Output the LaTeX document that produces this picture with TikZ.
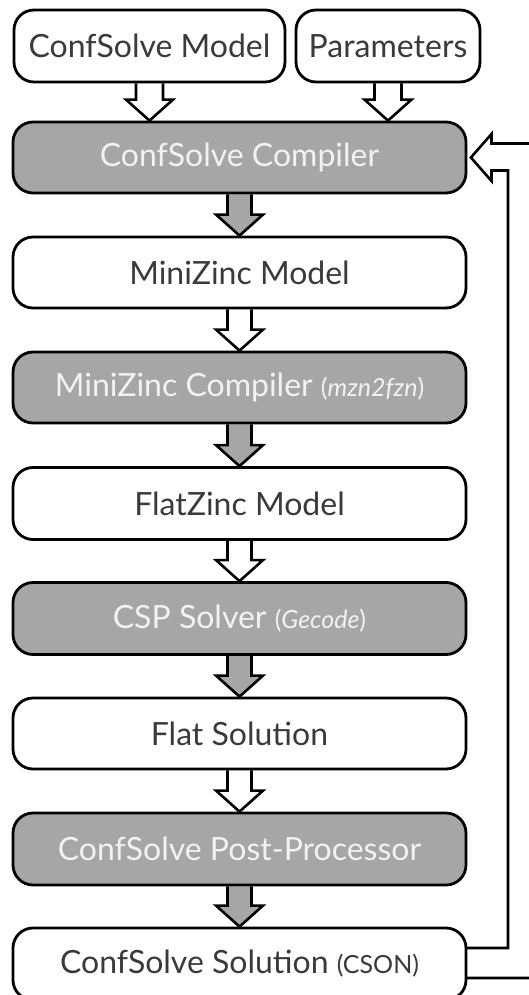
\documentclass[tikz,border=0pt]{standalone}
\usepackage{fontspec}
\setmainfont{Lato}
\usetikzlibrary{calc}
\pgfdeclarelayer{background}
\pgfsetlayers{background,main}
\definecolor{boxgray}{HTML}{A6A6A6}
\definecolor{darktext}{HTML}{3A3A3A}
\definecolor{lighttext}{HTML}{F2F2F2}
\tikzset{
  box/.style={draw=black, line width=2.8pt, rounded corners=20pt, inner sep=0pt,
    minimum height=71pt, font=\fontsize{32}{36}\selectfont},
  wbox/.style={box, fill=white, text=darktext},
  gbox/.style={box, fill=boxgray, text=lighttext},
  mainbox/.style={minimum width=453pt},
  arr/.style={draw=black, line width=2.6pt, line join=miter},
}
\newcommand\parensize{\fontsize{25}{29}\selectfont}
% block arrow: [fill]{from}{to}{half shaft width}
\newcommand\blockarr[4][white]{%
  \draw[arr, fill=#1]
    ($(#2.south)+(-#4,0)$) --
    ($(#2.south |- #3.north)+(-#4,21pt)$) --
    ($(#2.south |- #3.north)+(-23.5pt,21pt)$) --
    (#2.south |- #3.north) --
    ($(#2.south |- #3.north)+(23.5pt,21pt)$) --
    ($(#2.south |- #3.north)+(#4,21pt)$) --
    ($(#2.south)+(#4,0)$);}
\begin{document}
\begin{tikzpicture}[x=1pt, y=-1pt]
  \useasboundingbox (0,0) rectangle (529,995);
  \clip (0,0) rectangle (529,995);
  \node[wbox, minimum width=271pt, minimum height=72pt] (cm) at (149.5,46) {ConfSolve Model};
  \node[wbox, minimum width=184pt, minimum height=72pt] (par) at (388,46) {Parameters};
  \node[gbox, mainbox] (comp) at (239.5,157.5) {ConfSolve Compiler};
  \node[wbox, mainbox] (mm) at (239.5,272.5) {MiniZinc Model};
  \node[gbox, mainbox] (mc) at (239.5,387.5) {MiniZinc Compiler {\parensize(\textit{mzn2fzn})}};
  \node[wbox, mainbox, minimum height=72pt] (fm) at (239.5,503.5) {FlatZinc Model};
  \node[gbox, mainbox, minimum height=72pt] (csp) at (239.5,618.5) {CSP Solver {\parensize(\textit{Gecode})}};
  \node[wbox, mainbox] (fs) at (239.5,733.5) {Flat Solution};
  \node[gbox, mainbox, minimum height=72pt] (pp) at (239.5,849) {ConfSolve Post-Processor};
  \node[wbox, mainbox, minimum height=72pt] (sol) at (239.5,964) {ConfSolve Solution {\parensize(CSON)}};
  \begin{pgfonlayer}{background}
    \blockarr{cm}{comp}{13.5pt}
    \blockarr{par}{comp}{13.5pt}
    \blockarr[boxgray]{comp}{mm}{12pt}
    \blockarr{mm}{mc}{12pt}
    \blockarr[boxgray]{mc}{fm}{12pt}
    \blockarr{fm}{csp}{12pt}
    \blockarr[boxgray]{csp}{fs}{12pt}
    \blockarr{fs}{pp}{12pt}
    \blockarr[boxgray]{pp}{sol}{12pt}
    % feedback hollow arrow
    \coordinate (fbtip) at ($(comp.east)+(3.5pt,0)$);
    \draw[arr, fill=white] (fbtip) -- (491.5,134) -- (491.5,143.5) -- (536,143.5)
      -- (536,978) -- (450,978) -- (450,948) -- (508,948) -- (508,170.5)
      -- (491.5,170.5) -- (491.5,181) -- cycle;
  \end{pgfonlayer}
\end{tikzpicture}
\end{document}
